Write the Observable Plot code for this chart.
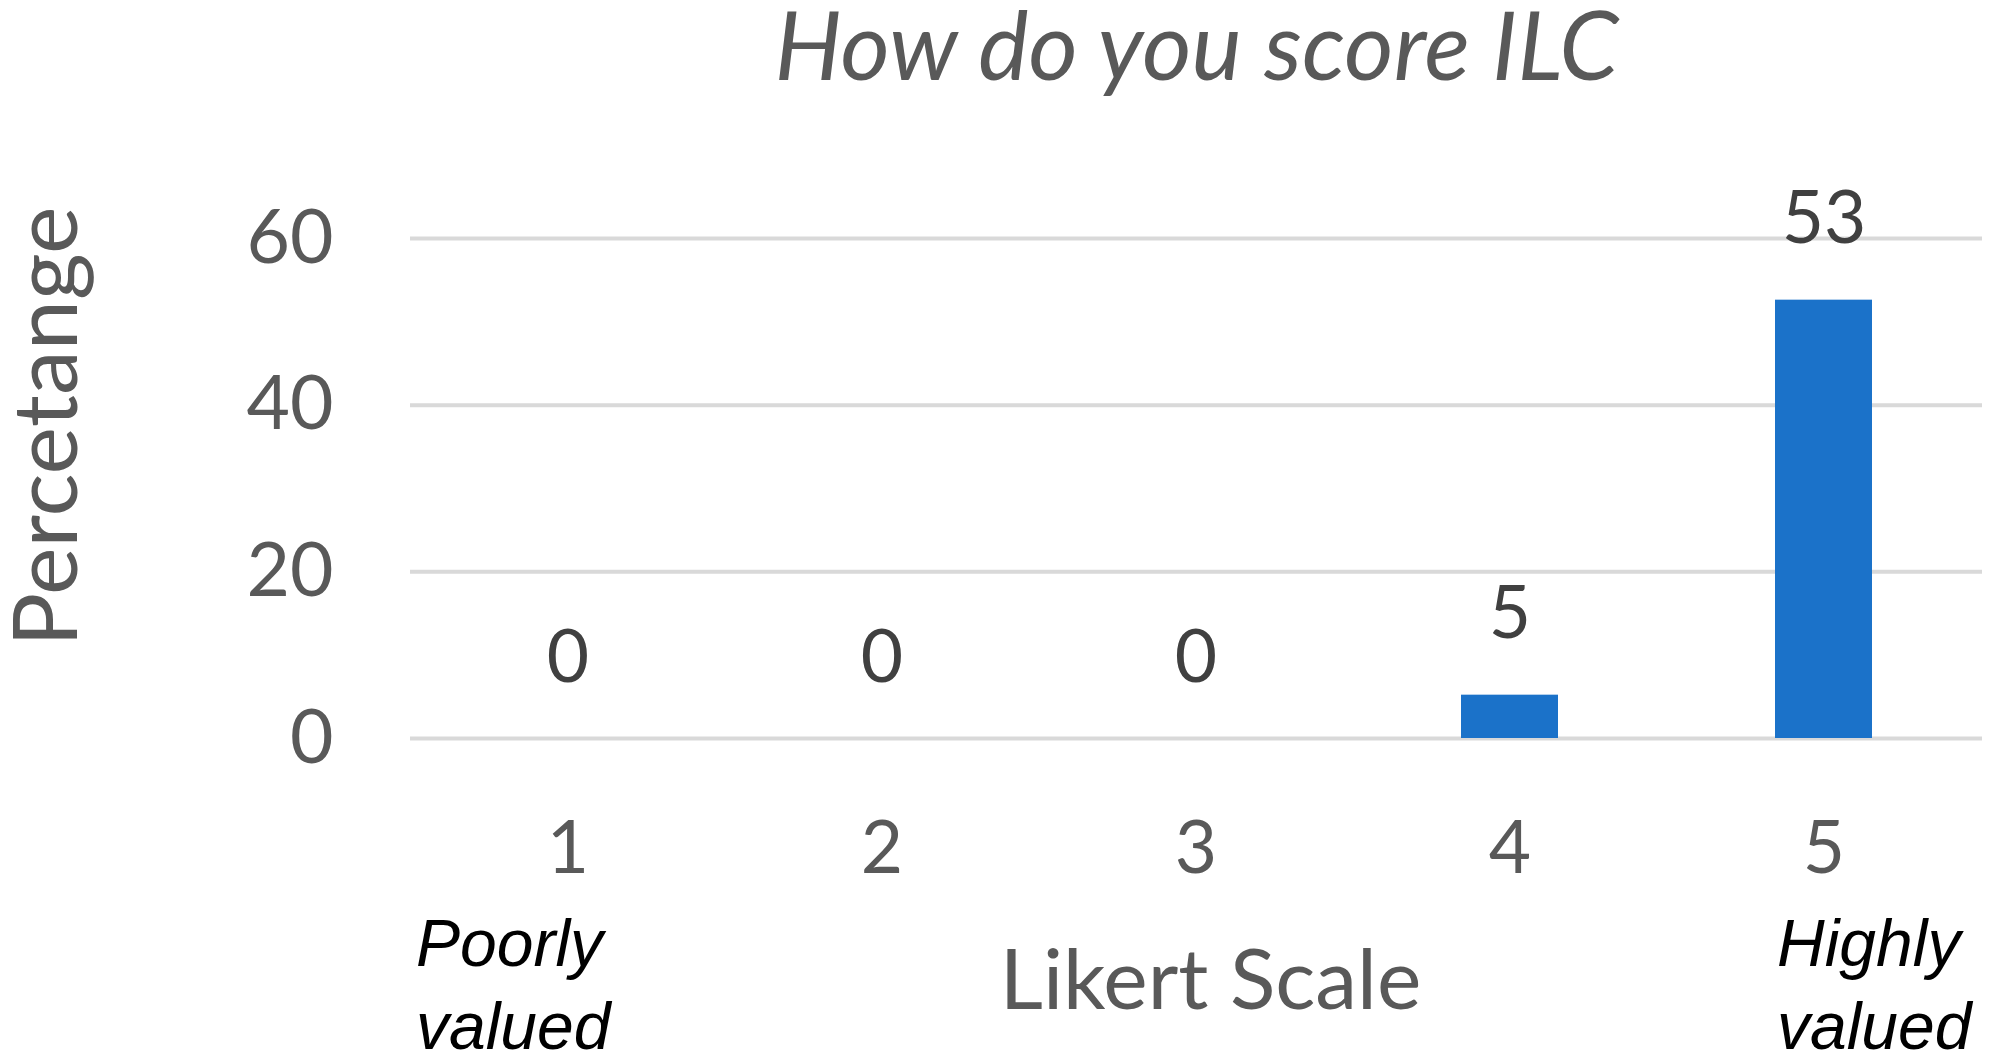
<!DOCTYPE html>
<html>
<head>
<meta charset="utf-8">
<script src="https://cdn.jsdelivr.net/npm/d3@7"></script>
<script src="https://cdn.jsdelivr.net/npm/@observablehq/plot@0.6"></script>
<style>
  html, body { margin: 0; padding: 0; background: #ffffff; }
  #chart svg { display: block; }
</style>
</head>
<body>
<div id="chart"></div>
<script>
// ---- data ----
const categories = ["1", "2", "3", "4", "5"];
const percentages = [0, 0, 0, 5.2, 52.6];
const valueLabels = ["0", "0", "0", "5", "53"];
const yTicks = [0, 20, 40, 60];
const titleText = "How do you score ILC";
const yLabelText = "Percetange";
const xLabelText = "Likert Scale";
const lowAnchorText = "Poorly\nvalued";
const highAnchorText = "Highly\nvalued";

const data = categories.map((c, i) => ({cat: c, value: percentages[i], label: valueLabels[i]}));

const FONT = "Lato, 'Open Sans', sans-serif";
const GREY = "#595959";

const chart = Plot.plot({
  width: 1995,
  height: 1064,
  marginLeft: 410,
  marginRight: 13,
  marginTop: 238,
  marginBottom: 326,
  style: {fontFamily: FONT, color: GREY, background: "#ffffff"},
  x: {type: "band", domain: categories, paddingInner: 0.69, paddingOuter: 0.345},
  y: {domain: [0, 60]},
  marks: [
    Plot.ruleY(yTicks, {stroke: "#d9d9d9", strokeWidth: 4}),
    Plot.barY(data, {x: "cat", y: "value", fill: "#1b72c9"}),
    Plot.text(data, {x: "cat", y: "value", text: "label", fill: "#404040",
      fontSize: 73, lineAnchor: "bottom", dy: -57}),
    Plot.axisY({ticks: yTicks, tickSize: 0, tickPadding: 77, fontSize: 75, label: null}),
    Plot.axisX({tickSize: 0, tickPadding: 83, fontSize: 73, label: null}),
    // title
    Plot.text([titleText], {frameAnchor: "top", textAnchor: "middle", fontSize: 95, fontStyle: "italic",
      fill: GREY, lineAnchor: "top", dy: -226}),
    // y label
    Plot.text([yLabelText], {frameAnchor: "left", textAnchor: "middle", rotate: -90, fontSize: 90,
      fill: GREY, lineAnchor: "middle", dx: -362, dy: -62}),
    // x label
    Plot.text([xLabelText], {frameAnchor: "bottom", textAnchor: "middle", fontSize: 84,
      fill: GREY, lineAnchor: "top", dx: 14, dy: 211}),
    // scale end annotations
    Plot.text([{cat: categories[0], t: lowAnchorText}], {x: "cat", frameAnchor: "bottom", text: "t",
      textAnchor: "start", lineAnchor: "top", lineHeight: 1.26, fontSize: 66,
      fontFamily: "'Liberation Sans', Arial, sans-serif", fontStyle: "italic",
      fill: "#000000", dx: -152, dy: 168}),
    Plot.text([{cat: categories[4], t: highAnchorText}], {x: "cat", frameAnchor: "bottom", text: "t",
      textAnchor: "start", lineAnchor: "top", lineHeight: 1.26, fontSize: 66,
      fontFamily: "'Liberation Sans', Arial, sans-serif", fontStyle: "italic",
      fill: "#000000", dx: -47, dy: 168})
  ]
});
document.getElementById("chart").appendChild(chart);
</script>
</body>
</html>
